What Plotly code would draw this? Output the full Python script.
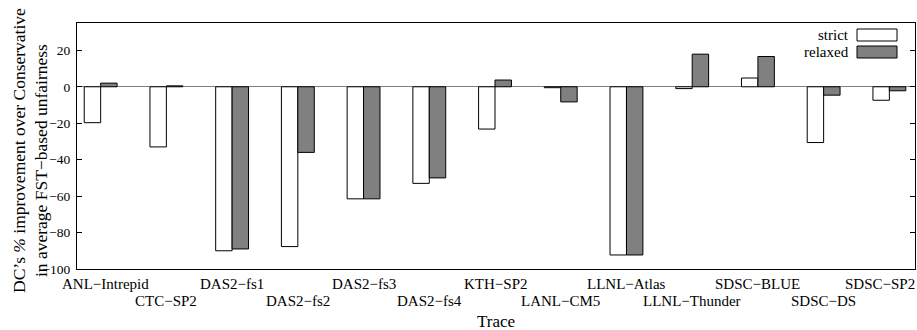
import plotly.graph_objects as go

traces = ["ANL−Intrepid", "CTC−SP2", "DAS2−fs1", "DAS2−fs2", "DAS2−fs3", "DAS2−fs4",
          "KTH−SP2", "LANL−CM5", "LLNL−Atlas", "LLNL−Thunder", "SDSC−BLUE", "SDSC−DS", "SDSC−SP2"]
strict = [-19.7, -33.0, -90.0, -87.7, -61.5, -53.0, -23.2, -0.5, -92.3, -1.0, 4.8, -30.6, -7.4]
relaxed = [2.0, 0.5, -89.0, -36.0, -61.5, -50.0, 3.7, -8.3, -92.3, 17.9, 16.6, -4.6, -2.2]
y_ticks = [-100, -80, -60, -40, -20, 0, 20]

FONT = "Liberation Serif"
xs = list(range(len(traces)))

fig = go.Figure()
fig.add_trace(go.Bar(x=xs, y=strict, name="strict",
                     marker=dict(color="white", line=dict(color="black", width=1))))
fig.add_trace(go.Bar(x=xs, y=relaxed, name="relaxed",
                     marker=dict(color="#808080", line=dict(color="black", width=1))))

fig.update_layout(
    width=917, height=330,
    margin=dict(l=77, r=2, t=23, b=61),
    plot_bgcolor="white", paper_bgcolor="white",
    barmode="group", bargap=0.5, bargroupgap=0,
    showlegend=False,
    font=dict(family=FONT, color="black", size=13),
)
fig.update_xaxes(
    range=[-0.36, 12.39], tickmode="array", tickvals=xs, showticklabels=False,
    showline=True, linecolor="black", linewidth=1, mirror=True,
    ticks="", showgrid=False, zeroline=False, automargin=False,
)
fig.update_yaxes(
    range=[-100, 35], tickmode="array", tickvals=y_ticks,
    showline=True, linecolor="black", linewidth=1, mirror="allticks",
    ticks="inside", ticklen=5, tickcolor="black", automargin=False,
    ticklabelstandoff=3,
    showgrid=False, zeroline=True, zerolinecolor="#808080", zerolinewidth=1,
    tickfont=dict(size=13.5, family=FONT),
)


def px(x):
    return (x - 77) / 838


def py(y):
    return 1 - (y - 23) / 246


# y-axis title, two rotated lines
fig.add_annotation(text="DC’s <i>%</i> improvement over Conservative", xref="paper", yref="paper",
                   x=px(19), y=py(151), xanchor="center", yanchor="middle", textangle=-90,
                   showarrow=False, font=dict(size=17.5, family=FONT))
fig.add_annotation(text="in average FST−based unfairness", xref="paper", yref="paper",
                   x=px(41), y=py(161), xanchor="center", yanchor="middle", textangle=-90,
                   showarrow=False, font=dict(size=17.5, family=FONT))

# staggered category labels (two rows), placed at the category positions
for i, t in enumerate(traces):
    shift = 0
    if i == 0:
        shift = 5
    if i == len(traces) - 1:
        shift = -9
    fig.add_annotation(text=t, xref="x", yref="paper", x=i, y=py(284 if i % 2 == 0 else 301),
                       xanchor="center", yanchor="middle", xshift=shift, showarrow=False,
                       font=dict(size=15, family=FONT))

fig.add_annotation(text="Trace", xref="paper", yref="paper", x=0.5, y=py(321),
                   xanchor="center", yanchor="middle", showarrow=False,
                   font=dict(size=17, family=FONT))

# manual legend (text left of swatch)
legend_items = [("strict", "white", 29), ("relaxed", "#808080", 46)]
for label, col, top in legend_items:
    fig.add_shape(type="rect", xref="paper", yref="paper",
                  x0=px(857), x1=px(897), y0=py(top + 12), y1=py(top),
                  line=dict(color="black", width=1), fillcolor=col)
    fig.add_annotation(text=label, xref="paper", yref="paper",
                       x=px(851), y=py(top + 6), xanchor="right", yanchor="middle",
                       showarrow=False, font=dict(size=15, family=FONT))

fig.write_html("out.html", config={"displayModeBar": False},
               post_script="document.body.style.margin='0';document.body.style.overflow='hidden';")
